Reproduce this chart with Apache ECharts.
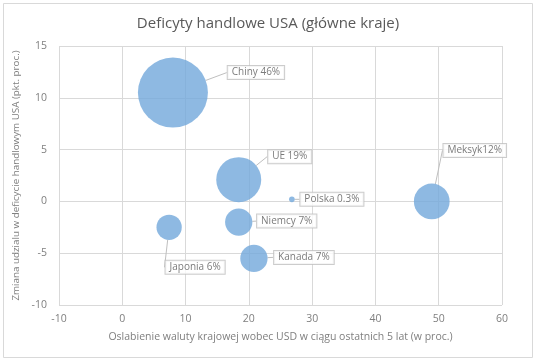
<!DOCTYPE html>
<html>
<head>
<meta charset="utf-8">
<script src="https://cdn.jsdelivr.net/npm/echarts@6/dist/echarts.min.js"></script>
<style>
html,body{margin:0;padding:0;background:#fff;}
#chart{width:536px;height:362px;}
</style>
</head>
<body>
<div id="chart"></div>
<script>
const countries = ['Chiny', 'UE', 'Polska', 'Meksyk', 'Niemcy', 'Japonia', 'Kanada'];
const xValues = [8.0, 18.4, 26.8, 48.9, 18.4, 7.4, 20.8];
const yValues = [10.5, 2.1, 0.2, 0.0, -2.0, -2.5, -5.5];
const shares = [46, 19, 0.3, 12, 7, 6, 7];
const labelTexts = ['Chiny 46%', 'UE 19%', 'Polska 0.3%', 'Meksyk12%', 'Niemcy 7%', 'Japonia 6%', 'Kanada 7%'];

// label callout offsets (layout only)
const labelOffsets = [[83, -20], [51, -23], [40, 0], [43, -51], [48, -1], [26, 40], [50, -1]];

const data = countries.map((c, i) => ({
  name: c,
  value: [xValues[i], yValues[i], shares[i]],
  label: { formatter: labelTexts[i] }
}));

const chart = echarts.init(document.getElementById('chart'));
const font = 'Open Sans, Noto Sans, sans-serif';
chart.setOption({
  animation: false,
  backgroundColor: '#fff',
  title: {
    text: 'Deficyty handlowe USA (główne kraje)',
    left: 'center',
    top: 11,
    textStyle: { fontFamily: font, fontSize: 15, fontWeight: 'normal', color: '#595959' }
  },
  graphic: [{
    type: 'rect',
    shape: { x: 3.5, y: 3.5, width: 529, height: 354 },
    style: { fill: 'none', stroke: '#d9d9d9', lineWidth: 1 },
    silent: true
  }],
  grid: { left: 59, right: 34, top: 46, bottom: 57 },
  xAxis: {
    type: 'value',
    min: -10, max: 60, interval: 10,
    name: 'Oslabienie waluty krajowej wobec USD w ciągu ostatnich 5 lat (w proc.)',
    nameLocation: 'middle',
    nameGap: 27,
    nameTextStyle: { fontFamily: font, fontSize: 10.5, color: '#7f7f7f' },
    axisLine: { show: false },
    axisTick: { show: false },
    axisLabel: { fontFamily: font, fontSize: 10.5, color: '#7f7f7f', margin: 9 },
    splitLine: { show: true, lineStyle: { color: '#d9d9d9', width: 1 } }
  },
  yAxis: {
    type: 'value',
    min: -10, max: 15, interval: 5,
    name: 'Zmiana udzialu w deficycie handlowym USA (pkt. proc.)',
    nameLocation: 'middle',
    nameGap: 28,
    nameRotate: 90,
    nameTextStyle: { fontFamily: font, fontSize: 9.8, color: '#7f7f7f' },
    axisLine: { show: false },
    axisTick: { show: false },
    axisLabel: { fontFamily: font, fontSize: 10.5, color: '#7f7f7f', margin: 12 },
    splitLine: { show: true, lineStyle: { color: '#d9d9d9', width: 1 } }
  },
  series: [{
    type: 'scatter',
    data: data,
    symbol: 'circle',
    symbolSize: v => 70 * Math.sqrt(v[2] / 46),
    itemStyle: { color: '#72a8db' },
    label: {
      show: true,
      position: 'inside',
      fontFamily: font,
      fontSize: 10,
      color: '#595959',
      backgroundColor: '#fff',
      borderColor: '#bfbfbf',
      borderWidth: 1,
      padding: [2, 4, 1, 4]
    },
    labelLine: { show: true, lineStyle: { color: '#bfbfbf', width: 1 } },
    labelLayout: p => ({ dx: labelOffsets[p.dataIndex][0], dy: labelOffsets[p.dataIndex][1] })
  }]
});
</script>
</body>
</html>
